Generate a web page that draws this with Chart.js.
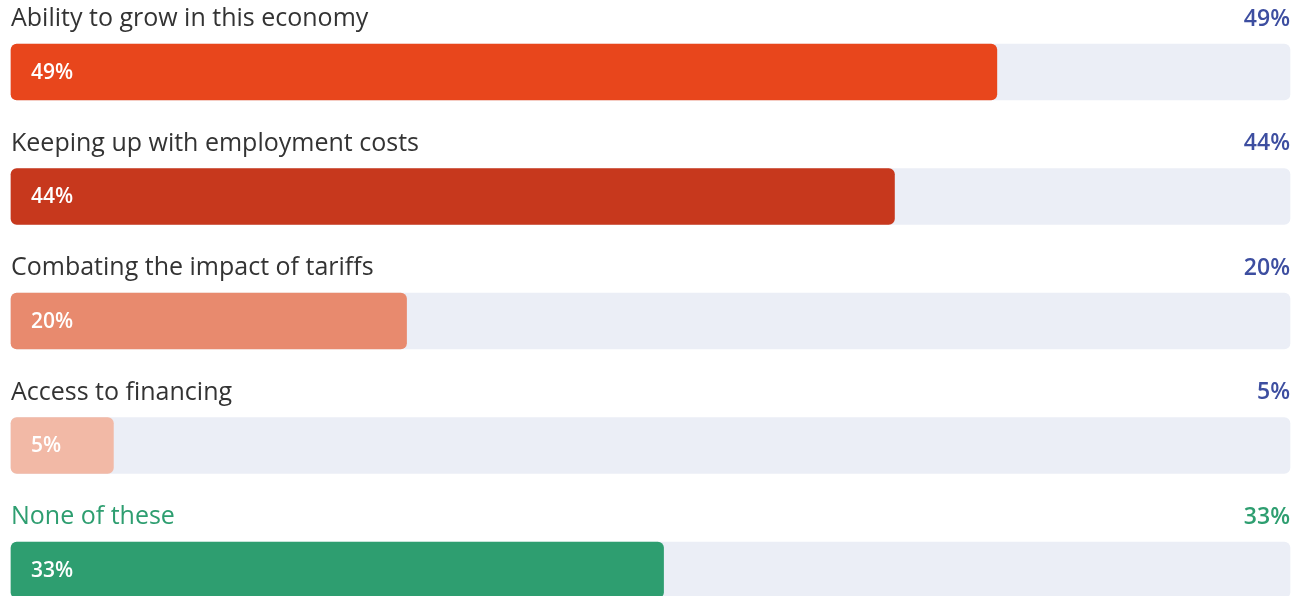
<!DOCTYPE html>
<html>
<head>
<meta charset="utf-8">
<script src="https://cdn.jsdelivr.net/npm/chart.js@4"></script>
<style>
  html, body { margin: 0; padding: 0; background: #fff; overflow: hidden; }
  #wrap { width: 1306px; height: 596px; }
</style>
</head>
<body>
<div id="wrap"><canvas id="chart1"></canvas></div>
<script>
// data
const categories = [
  'Ability to grow in this economy',
  'Keeping up with employment costs',
  'Combating the impact of tariffs',
  'Access to financing',
  'None of these'
];
// bar lengths (labels show them rounded)
const values = [49.1, 44.0, 19.7, 5.1, 32.5];
const pctLabels = ['49%', '44%', '20%', '5%', '33%'];
const barColors = ['#e8461c', '#c7381d', '#e88a6e', '#f2b9a6', '#2e9e70'];
const labelColors = ['#333333', '#333333', '#333333', '#333333', '#2e9e70'];
const pctColors = ['#3d4ea0', '#3d4ea0', '#3d4ea0', '#3d4ea0', '#2e9e70'];
const scaleMax = 63.7;
const trackValues = categories.map(() => scaleMax);

const FONT = '"Open Sans", "Noto Sans", sans-serif';

// draws category label above bar, percent on the right, and value inside bar
const rowLabels = {
  id: 'rowLabels',
  afterDatasetsDraw(chart) {
    const ctx = chart.ctx;
    const meta = chart.getDatasetMeta(0);
    const area = chart.chartArea;
    ctx.save();
    meta.data.forEach((bar, i) => {
      const top = bar.y - bar.height / 2;
      ctx.textBaseline = 'middle';
      // category text
      ctx.font = '400 25px ' + FONT;
      ctx.fillStyle = labelColors[i];
      ctx.textAlign = 'left';
      ctx.fillText(categories[i], area.left, top - 25);
      // percent on right
      ctx.font = '600 23px ' + FONT;
      ctx.fillStyle = pctColors[i];
      ctx.textAlign = 'right';
      ctx.fillText(pctLabels[i], area.right, top - 25);
      // inside bar
      ctx.font = '600 21px ' + FONT;
      ctx.fillStyle = '#ffffff';
      ctx.textAlign = 'left';
      ctx.fillText(pctLabels[i], area.left + 20, bar.y + 1);
    });
    ctx.restore();
  }
};

const ctx = document.getElementById('chart1').getContext('2d');
const chart1 = new Chart(ctx, {
  type: 'bar',
  data: {
    labels: categories,
    datasets: [
      {
        label: 'value',
        data: values,
        backgroundColor: barColors,
        borderRadius: 6,
        borderSkipped: false,
        barThickness: 56,
        grouped: false,
        clip: false,
        order: 1
      },
      {
        label: 'track',
        data: trackValues,
        backgroundColor: '#ebeef6',
        borderRadius: 6,
        borderSkipped: false,
        barThickness: 56,
        grouped: false,
        clip: false,
        order: 2
      }
    ]
  },
  options: {
    indexAxis: 'y',
    responsive: true,
    maintainAspectRatio: false,
    animation: false,
    layout: { padding: { left: 11, right: 16, top: 72, bottom: 26 } },
    scales: {
      x: { display: false, min: 0, max: scaleMax },
      y: { display: false, offset: false }
    },
    plugins: {
      legend: { display: false },
      tooltip: { enabled: false }
    }
  },
  plugins: [rowLabels]
});
</script>
</body>
</html>
